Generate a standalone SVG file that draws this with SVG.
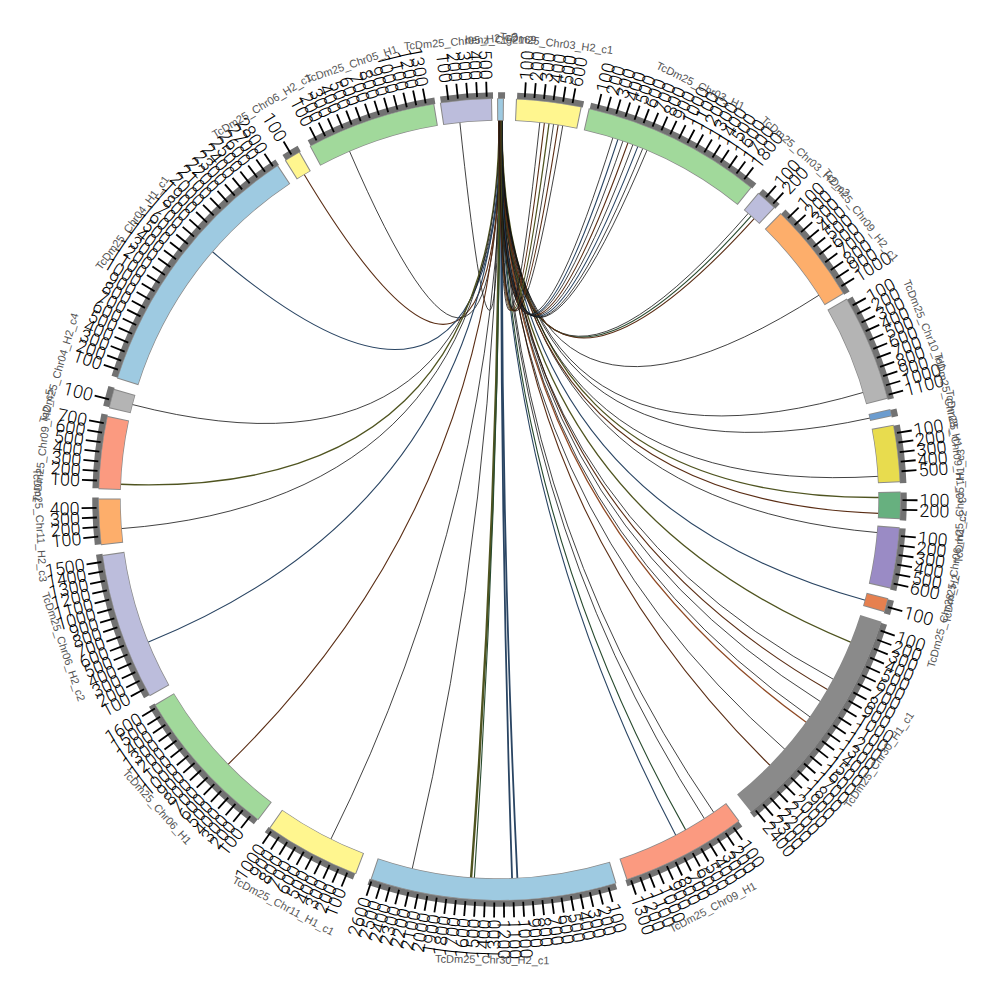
<svg xmlns="http://www.w3.org/2000/svg" xmlns:xlink="http://www.w3.org/1999/xlink" width="1000" height="1000" viewBox="0 0 1000 1000">
<style>
.gb{fill:none;stroke:#727272;stroke-width:6.5}
.ol{fill:none;stroke:#8a8a8a;stroke-width:22.4}
.cb{fill:none;stroke-width:21}
.tl{font-family:Roboto,"Liberation Sans",Arial,sans-serif;font-weight:300;font-size:18px;fill:#000;dominant-baseline:central}
.le{text-anchor:end}
.nm{font-family:"Liberation Sans",Arial,sans-serif;font-size:11px;fill:#555;text-anchor:middle;dominant-baseline:central}
.lk{fill:none;stroke:#111;stroke-width:0.8}
.lb{fill:none;stroke:#5a2d14;stroke-width:1.1}
.lo{fill:none;stroke:#4f5420;stroke-width:1.3}
.lu{fill:none;stroke:#2a4563;stroke-width:1.1}
.lg{fill:none;stroke:#274a2e;stroke-width:1.1}
.la{fill:none;stroke:#8f4a25;stroke-width:1.3}
</style>
<defs>
<line id="tk" x1="0" y1="-403" x2="0" y2="-418" stroke="#000" stroke-width="1.8"/>
</defs>
<rect width="1000" height="1000" fill="#fff"/>
<g transform="translate(499.5,499.5)">
<g id="connectors">
<path class="lk" d="M-0.5,-379.5Q0,0 -39.67,-377.42"/>
<path class="lk" d="M0.3,-379.5Q0,0 -150.11,-348.55"/>
<path class="lb" d="M1.1,-379.5Q0,0 -195.46,-325.3"/>
<path class="lu" d="M1.9,-379.5Q0,0 -287.28,-247.97"/>
<path class="lk" d="M2.6,-379.5Q0,0 -367.41,-95.02"/>
<path class="lo" d="M-0.5,-379.5Q0,0 -379.19,-15.23"/>
<path class="lk" d="M0.3,-379.5Q0,0 -378.38,29.12"/>
<path class="lu" d="M1.1,-379.5Q0,0 -351.62,142.78"/>
<path class="lb" d="M1.9,-379.5Q0,0 -271.6,265.05"/>
<path class="lk" d="M2.6,-379.5Q0,0 -168.74,339.92"/>
<path class="lk" d="M-0.5,-379.5Q0,0 -87.3,369.32"/>
<path class="lo" style="stroke-width:2.4" d="M0.3,-379.5Q0,0 -28.45,378.43"/>
<path class="lg" d="M1.1,-379.5Q0,0 -25.15,378.67"/>
<path class="lu" style="stroke-width:1.8" d="M1.9,-379.5Q0,0 12.58,379.29"/>
<path class="lu" style="stroke-width:1.8" d="M2.6,-379.5Q0,0 17.88,379.08"/>
<path class="lu" d="M-0.5,-379.5Q0,0 176.41,336.01"/>
<path class="lg" d="M0.3,-379.5Q0,0 186.3,330.63"/>
<path class="lk" d="M1.1,-379.5Q0,0 205.02,319.36"/>
<path class="lk" d="M1.9,-379.5Q0,0 214.41,313.14"/>
<path class="lb" d="M2.6,-379.5Q0,0 270.68,266"/>
<path class="lk" d="M-0.5,-379.5Q0,0 285.54,249.97"/>
<path class="la" d="M0.3,-379.5Q0,0 307.02,223.07"/>
<path class="lk" d="M1.1,-379.5Q0,0 310.87,217.67"/>
<path class="lk" d="M1.9,-379.5Q0,0 321.13,202.23"/>
<path class="lb" d="M2.6,-379.5Q0,0 328.32,190.32"/>
<path class="lk" d="M-0.5,-379.5Q0,0 334.13,179.92"/>
<path class="lo" d="M0.3,-379.5Q0,0 351.62,142.78"/>
<path class="lu" d="M1.1,-379.5Q0,0 365.88,100.78"/>
<path class="lk" d="M1.9,-379.5Q0,0 378.06,33.08"/>
<path class="lo" d="M2.6,-379.5Q0,0 379.5,-1.99"/>
<path class="lb" d="M-0.5,-379.5Q0,0 379.25,13.9"/>
<path class="lk" d="M0.3,-379.5Q0,0 378.79,-23.17"/>
<path class="lk" d="M1.1,-379.5Q0,0 370.66,-81.49"/>
<path class="lk" d="M1.9,-379.5Q0,0 364.07,-107.15"/>
<path class="lk" d="M2.6,-379.5Q0,0 319.72,-204.47"/>
<path class="lk" d="M-0.5,-379.5Q0,0 248.97,-286.41"/>
<path class="lg" d="M0.3,-379.5Q0,0 251.96,-283.79"/>
<path class="lb" d="M1.1,-379.5Q0,0 254.92,-281.13"/>
<path class="lk" d="M1.9,-379.5Q0,0 113.49,-362.13"/>
<path class="lu" d="M2.6,-379.5Q0,0 118.53,-360.51"/>
<path class="lk" d="M-0.5,-379.5Q0,0 123.55,-358.82"/>
<path class="lb" d="M0.3,-379.5Q0,0 128.55,-357.06"/>
<path class="lk" d="M1.1,-379.5Q0,0 133.52,-355.24"/>
<path class="lu" d="M1.9,-379.5Q0,0 138.47,-353.34"/>
<path class="lk" d="M2.6,-379.5Q0,0 143.39,-351.37"/>
<path class="lk" d="M-0.5,-379.5Q0,0 147.67,-349.59"/>
<path class="lk" d="M0.3,-379.5Q0,0 40.33,-377.35"/>
<path class="lb" d="M1.1,-379.5Q0,0 44.93,-376.83"/>
<path class="lo" d="M1.9,-379.5Q0,0 49.54,-376.25"/>
<path class="lk" d="M2.6,-379.5Q0,0 54.13,-375.62"/>
<path class="lb" d="M-0.5,-379.5Q0,0 58.71,-374.93"/>
<path class="lk" d="M0.3,-379.5Q0,0 63.29,-374.19"/>
</g>

<g id="seg-benz-ctg2169">
<circle class="gb" r="404" stroke-dasharray="7.05 3000" transform="rotate(-90.2)"/>
<circle class="ol" r="390" stroke-dasharray="6.81 3000" transform="rotate(-90.35)"/>
<circle class="cb" r="390" stroke="#9ecae1" stroke-dasharray="4.76 3000" transform="rotate(-90.2)"/>
<text class="nm" transform="rotate(0.15)" y="-460">benz_Ctg2169</text>
</g>

<g id="seg-chr03-h2-c1">
<circle class="gb" r="404" stroke-dasharray="66.99 3000" transform="rotate(-87.5)"/>
<circle class="ol" r="390" stroke-dasharray="64.66 3000" transform="rotate(-87.65)"/>
<circle class="cb" r="390" stroke="#fff68f" stroke-dasharray="62.62 3000" transform="rotate(-87.5)"/>
<g transform="rotate(3.6)">
<g><use href="#tk"/><text class="tl" transform="rotate(-90)" x="420">100</text></g>
<g transform="rotate(1.37)"><use href="#tk"/><text class="tl" transform="rotate(-90)" x="420">200</text></g>
<g transform="rotate(2.74)"><use href="#tk"/><text class="tl" transform="rotate(-90)" x="420">300</text></g>
<g transform="rotate(4.11)"><use href="#tk"/><text class="tl" transform="rotate(-90)" x="420">400</text></g>
<g transform="rotate(5.48)"><use href="#tk"/><text class="tl" transform="rotate(-90)" x="420">500</text></g>
<g transform="rotate(6.85)"><use href="#tk"/><text class="tl" transform="rotate(-90)" x="420">600</text></g>
</g>
<text class="nm" transform="rotate(7.1)" y="-460">TcDm25_Chr03_H2_c1</text>
</g>

<g id="seg-chr03-h1">
<circle class="gb" r="404" stroke-dasharray="184.03 3000" transform="rotate(-77)"/>
<circle class="ol" r="390" stroke-dasharray="177.66 3000" transform="rotate(-77.15)"/>
<circle class="cb" r="390" stroke="#a1d99b" stroke-dasharray="175.62 3000" transform="rotate(-77)"/>
<g transform="rotate(14.1)">
<g><use href="#tk"/><text class="tl" transform="rotate(-90)" x="420">100</text></g>
<g transform="rotate(1.37)"><use href="#tk"/><text class="tl" transform="rotate(-90)" x="420">200</text></g>
<g transform="rotate(2.74)"><use href="#tk"/><text class="tl" transform="rotate(-90)" x="420">300</text></g>
<g transform="rotate(4.11)"><use href="#tk"/><text class="tl" transform="rotate(-90)" x="420">400</text></g>
<g transform="rotate(5.48)"><use href="#tk"/><text class="tl" transform="rotate(-90)" x="420">500</text></g>
<g transform="rotate(6.85)"><use href="#tk"/><text class="tl" transform="rotate(-90)" x="420">600</text></g>
<g transform="rotate(8.22)"><use href="#tk"/><text class="tl" transform="rotate(-90)" x="420">700</text></g>
<g transform="rotate(9.59)"><use href="#tk"/><text class="tl" transform="rotate(-90)" x="420">800</text></g>
<g transform="rotate(10.96)"><use href="#tk"/><text class="tl" transform="rotate(-90)" x="420">900</text></g>
<g transform="rotate(12.33)"><use href="#tk"/><text class="tl" transform="rotate(-90)" x="420">1000</text></g>
<g transform="rotate(13.7)"><use href="#tk"/><text class="tl" transform="rotate(-90)" x="420">1100</text></g>
<g transform="rotate(15.07)"><use href="#tk"/><text class="tl" transform="rotate(-90)" x="420">1200</text></g>
<g transform="rotate(16.44)"><use href="#tk"/><text class="tl" transform="rotate(-90)" x="420">1300</text></g>
<g transform="rotate(17.81)"><use href="#tk"/><text class="tl" transform="rotate(-90)" x="420">1400</text></g>
<g transform="rotate(19.18)"><use href="#tk"/><text class="tl" transform="rotate(-90)" x="420">1500</text></g>
<g transform="rotate(20.55)"><use href="#tk"/><text class="tl" transform="rotate(-90)" x="420">1600</text></g>
<g transform="rotate(21.92)"><use href="#tk"/><text class="tl" transform="rotate(-90)" x="420">1700</text></g>
<g transform="rotate(23.29)"><use href="#tk"/><text class="tl" transform="rotate(-90)" x="420">1800</text></g>
</g>
<text class="nm" transform="rotate(25.9)" y="-460">TcDm25_Chr03_H1</text>
</g>

<g id="seg-chr03-h2-c2">
<circle class="gb" r="404" stroke-dasharray="22.56 3000" transform="rotate(-49.7)"/>
<circle class="ol" r="390" stroke-dasharray="21.78 3000" transform="rotate(-49.85)"/>
<circle class="cb" r="390" stroke="#bcbddc" stroke-dasharray="19.74 3000" transform="rotate(-49.7)"/>
<g transform="rotate(41.4)">
<g><use href="#tk"/><text class="tl" transform="rotate(-90)" x="420">100</text></g>
<g transform="rotate(1.37)"><use href="#tk"/><text class="tl" transform="rotate(-90)" x="420">200</text></g>
</g>
<text class="nm" transform="rotate(41.75)" y="-460">TcDm25_Chr03_H2_c2</text>
</g>

<g id="seg-chr09-h2-c1">
<circle class="gb" r="404" stroke-dasharray="103.65 3000" transform="rotate(-45.4)"/>
<circle class="ol" r="390" stroke-dasharray="100.06 3000" transform="rotate(-45.55)"/>
<circle class="cb" r="390" stroke="#fdae6b" stroke-dasharray="98.02 3000" transform="rotate(-45.4)"/>
<g transform="rotate(45.7)">
<g><use href="#tk"/><text class="tl" transform="rotate(-90)" x="420">100</text></g>
<g transform="rotate(1.37)"><use href="#tk"/><text class="tl" transform="rotate(-90)" x="420">200</text></g>
<g transform="rotate(2.74)"><use href="#tk"/><text class="tl" transform="rotate(-90)" x="420">300</text></g>
<g transform="rotate(4.11)"><use href="#tk"/><text class="tl" transform="rotate(-90)" x="420">400</text></g>
<g transform="rotate(5.48)"><use href="#tk"/><text class="tl" transform="rotate(-90)" x="420">500</text></g>
<g transform="rotate(6.85)"><use href="#tk"/><text class="tl" transform="rotate(-90)" x="420">600</text></g>
<g transform="rotate(8.22)"><use href="#tk"/><text class="tl" transform="rotate(-90)" x="420">700</text></g>
<g transform="rotate(9.59)"><use href="#tk"/><text class="tl" transform="rotate(-90)" x="420">800</text></g>
<g transform="rotate(10.96)"><use href="#tk"/><text class="tl" transform="rotate(-90)" x="420">900</text></g>
<g transform="rotate(12.33)"><use href="#tk"/><text class="tl" transform="rotate(-90)" x="420">1000</text></g>
</g>
<text class="nm" transform="rotate(51.8)" y="-460">TcDm25_Chr09_H2_c1</text>
</g>

<g id="seg-chr10-h1">
<circle class="gb" r="404" stroke-dasharray="109.29 3000" transform="rotate(-29.9)"/>
<circle class="ol" r="390" stroke-dasharray="105.51 3000" transform="rotate(-30.05)"/>
<circle class="cb" r="390" stroke="#b4b4b4" stroke-dasharray="103.46 3000" transform="rotate(-29.9)"/>
<g transform="rotate(61.2)">
<g><use href="#tk"/><text class="tl" transform="rotate(-90)" x="420">100</text></g>
<g transform="rotate(1.37)"><use href="#tk"/><text class="tl" transform="rotate(-90)" x="420">200</text></g>
<g transform="rotate(2.74)"><use href="#tk"/><text class="tl" transform="rotate(-90)" x="420">300</text></g>
<g transform="rotate(4.11)"><use href="#tk"/><text class="tl" transform="rotate(-90)" x="420">400</text></g>
<g transform="rotate(5.48)"><use href="#tk"/><text class="tl" transform="rotate(-90)" x="420">500</text></g>
<g transform="rotate(6.85)"><use href="#tk"/><text class="tl" transform="rotate(-90)" x="420">600</text></g>
<g transform="rotate(8.22)"><use href="#tk"/><text class="tl" transform="rotate(-90)" x="420">700</text></g>
<g transform="rotate(9.59)"><use href="#tk"/><text class="tl" transform="rotate(-90)" x="420">800</text></g>
<g transform="rotate(10.96)"><use href="#tk"/><text class="tl" transform="rotate(-90)" x="420">900</text></g>
<g transform="rotate(12.33)"><use href="#tk"/><text class="tl" transform="rotate(-90)" x="420">1000</text></g>
<g transform="rotate(13.7)"><use href="#tk"/><text class="tl" transform="rotate(-90)" x="420">1100</text></g>
</g>
<text class="nm" transform="rotate(67.7)" y="-460">TcDm25_Chr10_H1</text>
</g>

<g id="seg-chr28-h1">
<circle class="gb" r="404" stroke-dasharray="7.76 3000" transform="rotate(-12.9)"/>
<circle class="ol" r="390" stroke-dasharray="7.49 3000" transform="rotate(-13.05)"/>
<circle class="cb" r="390" stroke="#6b9ccf" stroke-dasharray="5.45 3000" transform="rotate(-12.9)"/>
<text class="nm" transform="rotate(77.5)" y="-460">TcDm25_Chr28_H1</text>
</g>

<g id="seg-chr09-h1-c3">
<circle class="gb" r="404" stroke-dasharray="58.52 3000" transform="rotate(-10.6)"/>
<circle class="ol" r="390" stroke-dasharray="56.5 3000" transform="rotate(-10.75)"/>
<circle class="cb" r="390" stroke="#e8dc4e" stroke-dasharray="54.45 3000" transform="rotate(-10.6)"/>
<g transform="rotate(80.5)">
<g><use href="#tk"/><text class="tl" transform="rotate(-90)" x="420">100</text></g>
<g transform="rotate(1.37)"><use href="#tk"/><text class="tl" transform="rotate(-90)" x="420">200</text></g>
<g transform="rotate(2.74)"><use href="#tk"/><text class="tl" transform="rotate(-90)" x="420">300</text></g>
<g transform="rotate(4.11)"><use href="#tk"/><text class="tl" transform="rotate(-90)" x="420">400</text></g>
<g transform="rotate(5.48)"><use href="#tk"/><text class="tl" transform="rotate(-90)" x="420">500</text></g>
</g>
<text class="nm" transform="rotate(83.4)" y="-460">TcDm25_Chr09_H1_c3</text>
</g>

<g id="seg-chr05-h1-c3">
<circle class="gb" r="404" stroke-dasharray="28.2 3000" transform="rotate(-1)"/>
<circle class="ol" r="390" stroke-dasharray="27.23 3000" transform="rotate(-1.15)"/>
<circle class="cb" r="390" stroke="#67b07f" stroke-dasharray="25.19 3000" transform="rotate(-1)"/>
<g transform="rotate(90.1)">
<g><use href="#tk"/><text class="tl" transform="rotate(-90)" x="420">100</text></g>
<g transform="rotate(1.37)"><use href="#tk"/><text class="tl" transform="rotate(-90)" x="420">200</text></g>
</g>
<text class="nm" transform="rotate(-89.15)" y="460">TcDm25_Chr05_H1_c3</text>
</g>

<g id="seg-chr06-h1-c2">
<circle class="gb" r="404" stroke-dasharray="62.75 3000" transform="rotate(4.1)"/>
<circle class="ol" r="390" stroke-dasharray="60.58 3000" transform="rotate(3.95)"/>
<circle class="cb" r="390" stroke="#9a8bc5" stroke-dasharray="58.54 3000" transform="rotate(4.1)"/>
<g transform="rotate(95.2)">
<g><use href="#tk"/><text class="tl" transform="rotate(-90)" x="420">100</text></g>
<g transform="rotate(1.37)"><use href="#tk"/><text class="tl" transform="rotate(-90)" x="420">200</text></g>
<g transform="rotate(2.74)"><use href="#tk"/><text class="tl" transform="rotate(-90)" x="420">300</text></g>
<g transform="rotate(4.11)"><use href="#tk"/><text class="tl" transform="rotate(-90)" x="420">400</text></g>
<g transform="rotate(5.48)"><use href="#tk"/><text class="tl" transform="rotate(-90)" x="420">500</text></g>
<g transform="rotate(6.85)"><use href="#tk"/><text class="tl" transform="rotate(-90)" x="420">600</text></g>
</g>
<text class="nm" transform="rotate(-81.6)" y="460">TcDm25_Chr06_H1_c2</text>
</g>

<g id="seg-chr28-h2">
<circle class="gb" r="404" stroke-dasharray="14.81 3000" transform="rotate(14.4)"/>
<circle class="ol" r="390" stroke-dasharray="14.29 3000" transform="rotate(14.25)"/>
<circle class="cb" r="390" stroke="#e6804f" stroke-dasharray="12.25 3000" transform="rotate(14.4)"/>
<g transform="rotate(105.5)">
<g><use href="#tk"/><text class="tl" transform="rotate(-90)" x="420">100</text></g>
</g>
<text class="nm" transform="rotate(-74.7)" y="460">TcDm25_Chr28_H2</text>
</g>

<g id="seg-chr30-h1-c1">
<circle class="gb" r="404" stroke-dasharray="235.51 3000" transform="rotate(17.9)"/>
<circle class="ol" r="390" stroke-dasharray="227.35 3000" transform="rotate(17.75)"/>
<circle class="cb" r="390" stroke="#8a8a8a" stroke-dasharray="225.31 3000" transform="rotate(17.9)"/>
<g transform="rotate(109)">
<g><use href="#tk"/><text class="tl" transform="rotate(-90)" x="420">100</text></g>
<g transform="rotate(1.37)"><use href="#tk"/><text class="tl" transform="rotate(-90)" x="420">200</text></g>
<g transform="rotate(2.74)"><use href="#tk"/><text class="tl" transform="rotate(-90)" x="420">300</text></g>
<g transform="rotate(4.11)"><use href="#tk"/><text class="tl" transform="rotate(-90)" x="420">400</text></g>
<g transform="rotate(5.48)"><use href="#tk"/><text class="tl" transform="rotate(-90)" x="420">500</text></g>
<g transform="rotate(6.85)"><use href="#tk"/><text class="tl" transform="rotate(-90)" x="420">600</text></g>
<g transform="rotate(8.22)"><use href="#tk"/><text class="tl" transform="rotate(-90)" x="420">700</text></g>
<g transform="rotate(9.59)"><use href="#tk"/><text class="tl" transform="rotate(-90)" x="420">800</text></g>
<g transform="rotate(10.96)"><use href="#tk"/><text class="tl" transform="rotate(-90)" x="420">900</text></g>
<g transform="rotate(12.33)"><use href="#tk"/><text class="tl" transform="rotate(-90)" x="420">1000</text></g>
<g transform="rotate(13.7)"><use href="#tk"/><text class="tl" transform="rotate(-90)" x="420">1100</text></g>
<g transform="rotate(15.07)"><use href="#tk"/><text class="tl" transform="rotate(-90)" x="420">1200</text></g>
<g transform="rotate(16.44)"><use href="#tk"/><text class="tl" transform="rotate(-90)" x="420">1300</text></g>
<g transform="rotate(17.81)"><use href="#tk"/><text class="tl" transform="rotate(-90)" x="420">1400</text></g>
<g transform="rotate(19.18)"><use href="#tk"/><text class="tl" transform="rotate(-90)" x="420">1500</text></g>
<g transform="rotate(20.55)"><use href="#tk"/><text class="tl" transform="rotate(-90)" x="420">1600</text></g>
<g transform="rotate(21.92)"><use href="#tk"/><text class="tl" transform="rotate(-90)" x="420">1700</text></g>
<g transform="rotate(23.29)"><use href="#tk"/><text class="tl" transform="rotate(-90)" x="420">1800</text></g>
<g transform="rotate(24.66)"><use href="#tk"/><text class="tl" transform="rotate(-90)" x="420">1900</text></g>
<g transform="rotate(26.03)"><use href="#tk"/><text class="tl" transform="rotate(-90)" x="420">2000</text></g>
<g transform="rotate(27.4)"><use href="#tk"/><text class="tl" transform="rotate(-90)" x="420">2100</text></g>
<g transform="rotate(28.77)"><use href="#tk"/><text class="tl" transform="rotate(-90)" x="420">2200</text></g>
<g transform="rotate(30.14)"><use href="#tk"/><text class="tl" transform="rotate(-90)" x="420">2300</text></g>
<g transform="rotate(31.51)"><use href="#tk"/><text class="tl" transform="rotate(-90)" x="420">2400</text></g>
</g>
<text class="nm" transform="rotate(-55.55)" y="460">TcDm25_Chr30_H1_c1</text>
</g>

<g id="seg-chr09-h1">
<circle class="gb" r="404" stroke-dasharray="129.04 3000" transform="rotate(53.4)"/>
<circle class="ol" r="390" stroke-dasharray="124.56 3000" transform="rotate(53.25)"/>
<circle class="cb" r="390" stroke="#fb9a80" stroke-dasharray="122.52 3000" transform="rotate(53.4)"/>
<g transform="rotate(144.5)">
<g><use href="#tk"/><text class="tl" transform="rotate(-90)" x="420">100</text></g>
<g transform="rotate(1.37)"><use href="#tk"/><text class="tl" transform="rotate(-90)" x="420">200</text></g>
<g transform="rotate(2.74)"><use href="#tk"/><text class="tl" transform="rotate(-90)" x="420">300</text></g>
<g transform="rotate(4.11)"><use href="#tk"/><text class="tl" transform="rotate(-90)" x="420">400</text></g>
<g transform="rotate(5.48)"><use href="#tk"/><text class="tl" transform="rotate(-90)" x="420">500</text></g>
<g transform="rotate(6.85)"><use href="#tk"/><text class="tl" transform="rotate(-90)" x="420">600</text></g>
<g transform="rotate(8.22)"><use href="#tk"/><text class="tl" transform="rotate(-90)" x="420">700</text></g>
<g transform="rotate(9.59)"><use href="#tk"/><text class="tl" transform="rotate(-90)" x="420">800</text></g>
<g transform="rotate(10.96)"><use href="#tk"/><text class="tl" transform="rotate(-90)" x="420">900</text></g>
<g transform="rotate(12.33)"><use href="#tk"/><text class="tl" transform="rotate(-90)" x="420">1000</text></g>
<g transform="rotate(13.7)"><use href="#tk"/><text class="tl" transform="rotate(-90)" x="420">1100</text></g>
<g transform="rotate(15.07)"><use href="#tk"/><text class="tl" transform="rotate(-90)" x="420">1200</text></g>
<g transform="rotate(16.44)"><use href="#tk"/><text class="tl" transform="rotate(-90)" x="420">1300</text></g>
</g>
<text class="nm" transform="rotate(-27.6)" y="460">TcDm25_Chr09_H1</text>
</g>

<g id="seg-chr30-h2-c1">
<circle class="gb" r="404" stroke-dasharray="251.72 3000" transform="rotate(73.2)"/>
<circle class="ol" r="390" stroke-dasharray="243 3000" transform="rotate(73.05)"/>
<circle class="cb" r="390" stroke="#9ecae1" stroke-dasharray="240.96 3000" transform="rotate(73.2)"/>
<g transform="rotate(164.3)">
<g><use href="#tk"/><text class="tl" transform="rotate(-90)" x="420">100</text></g>
<g transform="rotate(1.37)"><use href="#tk"/><text class="tl" transform="rotate(-90)" x="420">200</text></g>
<g transform="rotate(2.74)"><use href="#tk"/><text class="tl" transform="rotate(-90)" x="420">300</text></g>
<g transform="rotate(4.11)"><use href="#tk"/><text class="tl" transform="rotate(-90)" x="420">400</text></g>
<g transform="rotate(5.48)"><use href="#tk"/><text class="tl" transform="rotate(-90)" x="420">500</text></g>
<g transform="rotate(6.85)"><use href="#tk"/><text class="tl" transform="rotate(-90)" x="420">600</text></g>
<g transform="rotate(8.22)"><use href="#tk"/><text class="tl" transform="rotate(-90)" x="420">700</text></g>
<g transform="rotate(9.59)"><use href="#tk"/><text class="tl" transform="rotate(-90)" x="420">800</text></g>
<g transform="rotate(10.96)"><use href="#tk"/><text class="tl" transform="rotate(-90)" x="420">900</text></g>
<g transform="rotate(12.33)"><use href="#tk"/><text class="tl" transform="rotate(-90)" x="420">1000</text></g>
<g transform="rotate(13.7)"><use href="#tk"/><text class="tl" transform="rotate(-90)" x="420">1100</text></g>
<g transform="rotate(15.07)"><use href="#tk"/><text class="tl" transform="rotate(-90)" x="420">1200</text></g>
<g transform="rotate(16.44)"><use href="#tk"/><text class="tl le" transform="rotate(90)" x="-420">1300</text></g>
<g transform="rotate(17.81)"><use href="#tk"/><text class="tl le" transform="rotate(90)" x="-420">1400</text></g>
<g transform="rotate(19.18)"><use href="#tk"/><text class="tl le" transform="rotate(90)" x="-420">1500</text></g>
<g transform="rotate(20.55)"><use href="#tk"/><text class="tl le" transform="rotate(90)" x="-420">1600</text></g>
<g transform="rotate(21.92)"><use href="#tk"/><text class="tl le" transform="rotate(90)" x="-420">1700</text></g>
<g transform="rotate(23.29)"><use href="#tk"/><text class="tl le" transform="rotate(90)" x="-420">1800</text></g>
<g transform="rotate(24.66)"><use href="#tk"/><text class="tl le" transform="rotate(90)" x="-420">1900</text></g>
<g transform="rotate(26.03)"><use href="#tk"/><text class="tl le" transform="rotate(90)" x="-420">2000</text></g>
<g transform="rotate(27.4)"><use href="#tk"/><text class="tl le" transform="rotate(90)" x="-420">2100</text></g>
<g transform="rotate(28.77)"><use href="#tk"/><text class="tl le" transform="rotate(90)" x="-420">2200</text></g>
<g transform="rotate(30.14)"><use href="#tk"/><text class="tl le" transform="rotate(90)" x="-420">2300</text></g>
<g transform="rotate(31.51)"><use href="#tk"/><text class="tl le" transform="rotate(90)" x="-420">2400</text></g>
<g transform="rotate(32.88)"><use href="#tk"/><text class="tl le" transform="rotate(90)" x="-420">2500</text></g>
<g transform="rotate(34.25)"><use href="#tk"/><text class="tl le" transform="rotate(90)" x="-420">2600</text></g>
</g>
<text class="nm" transform="rotate(0.9)" y="460">TcDm25_Chr30_H2_c1</text>
</g>

<g id="seg-chr11-h1-c1">
<circle class="gb" r="404" stroke-dasharray="99.42 3000" transform="rotate(111.1)"/>
<circle class="ol" r="390" stroke-dasharray="95.98 3000" transform="rotate(110.95)"/>
<circle class="cb" r="390" stroke="#fff68f" stroke-dasharray="93.93 3000" transform="rotate(111.1)"/>
<g transform="rotate(202.2)">
<g><use href="#tk"/><text class="tl le" transform="rotate(90)" x="-420">100</text></g>
<g transform="rotate(1.37)"><use href="#tk"/><text class="tl le" transform="rotate(90)" x="-420">200</text></g>
<g transform="rotate(2.74)"><use href="#tk"/><text class="tl le" transform="rotate(90)" x="-420">300</text></g>
<g transform="rotate(4.11)"><use href="#tk"/><text class="tl le" transform="rotate(90)" x="-420">400</text></g>
<g transform="rotate(5.48)"><use href="#tk"/><text class="tl le" transform="rotate(90)" x="-420">500</text></g>
<g transform="rotate(6.85)"><use href="#tk"/><text class="tl le" transform="rotate(90)" x="-420">600</text></g>
<g transform="rotate(8.22)"><use href="#tk"/><text class="tl le" transform="rotate(90)" x="-420">700</text></g>
<g transform="rotate(9.59)"><use href="#tk"/><text class="tl le" transform="rotate(90)" x="-420">800</text></g>
<g transform="rotate(10.96)"><use href="#tk"/><text class="tl le" transform="rotate(90)" x="-420">900</text></g>
<g transform="rotate(12.33)"><use href="#tk"/><text class="tl le" transform="rotate(90)" x="-420">1000</text></g>
</g>
<text class="nm" transform="rotate(28)" y="460">TcDm25_Chr11_H1_c1</text>
</g>

<g id="seg-chr06-h1">
<circle class="gb" r="404" stroke-dasharray="157.24 3000" transform="rotate(127.1)"/>
<circle class="ol" r="390" stroke-dasharray="151.79 3000" transform="rotate(126.95)"/>
<circle class="cb" r="390" stroke="#a1d99b" stroke-dasharray="149.75 3000" transform="rotate(127.1)"/>
<g transform="rotate(218.2)">
<g><use href="#tk"/><text class="tl le" transform="rotate(90)" x="-420">100</text></g>
<g transform="rotate(1.37)"><use href="#tk"/><text class="tl le" transform="rotate(90)" x="-420">200</text></g>
<g transform="rotate(2.74)"><use href="#tk"/><text class="tl le" transform="rotate(90)" x="-420">300</text></g>
<g transform="rotate(4.11)"><use href="#tk"/><text class="tl le" transform="rotate(90)" x="-420">400</text></g>
<g transform="rotate(5.48)"><use href="#tk"/><text class="tl le" transform="rotate(90)" x="-420">500</text></g>
<g transform="rotate(6.85)"><use href="#tk"/><text class="tl le" transform="rotate(90)" x="-420">600</text></g>
<g transform="rotate(8.22)"><use href="#tk"/><text class="tl le" transform="rotate(90)" x="-420">700</text></g>
<g transform="rotate(9.59)"><use href="#tk"/><text class="tl le" transform="rotate(90)" x="-420">800</text></g>
<g transform="rotate(10.96)"><use href="#tk"/><text class="tl le" transform="rotate(90)" x="-420">900</text></g>
<g transform="rotate(12.33)"><use href="#tk"/><text class="tl le" transform="rotate(90)" x="-420">1000</text></g>
<g transform="rotate(13.7)"><use href="#tk"/><text class="tl le" transform="rotate(90)" x="-420">1100</text></g>
<g transform="rotate(15.07)"><use href="#tk"/><text class="tl le" transform="rotate(90)" x="-420">1200</text></g>
<g transform="rotate(16.44)"><use href="#tk"/><text class="tl le" transform="rotate(90)" x="-420">1300</text></g>
<g transform="rotate(17.81)"><use href="#tk"/><text class="tl le" transform="rotate(90)" x="-420">1400</text></g>
<g transform="rotate(19.18)"><use href="#tk"/><text class="tl le" transform="rotate(90)" x="-420">1500</text></g>
<g transform="rotate(20.55)"><use href="#tk"/><text class="tl le" transform="rotate(90)" x="-420">1600</text></g>
</g>
<text class="nm" transform="rotate(48.1)" y="460">TcDm25_Chr06_H1</text>
</g>

<g id="seg-chr06-h2-c2">
<circle class="gb" r="404" stroke-dasharray="150.89 3000" transform="rotate(150.8)"/>
<circle class="ol" r="390" stroke-dasharray="145.67 3000" transform="rotate(150.65)"/>
<circle class="cb" r="390" stroke="#bcbddc" stroke-dasharray="143.62 3000" transform="rotate(150.8)"/>
<g transform="rotate(241.9)">
<g><use href="#tk"/><text class="tl le" transform="rotate(90)" x="-420">100</text></g>
<g transform="rotate(1.37)"><use href="#tk"/><text class="tl le" transform="rotate(90)" x="-420">200</text></g>
<g transform="rotate(2.74)"><use href="#tk"/><text class="tl le" transform="rotate(90)" x="-420">300</text></g>
<g transform="rotate(4.11)"><use href="#tk"/><text class="tl le" transform="rotate(90)" x="-420">400</text></g>
<g transform="rotate(5.48)"><use href="#tk"/><text class="tl le" transform="rotate(90)" x="-420">500</text></g>
<g transform="rotate(6.85)"><use href="#tk"/><text class="tl le" transform="rotate(90)" x="-420">600</text></g>
<g transform="rotate(8.22)"><use href="#tk"/><text class="tl le" transform="rotate(90)" x="-420">700</text></g>
<g transform="rotate(9.59)"><use href="#tk"/><text class="tl le" transform="rotate(90)" x="-420">800</text></g>
<g transform="rotate(10.96)"><use href="#tk"/><text class="tl le" transform="rotate(90)" x="-420">900</text></g>
<g transform="rotate(12.33)"><use href="#tk"/><text class="tl le" transform="rotate(90)" x="-420">1000</text></g>
<g transform="rotate(13.7)"><use href="#tk"/><text class="tl le" transform="rotate(90)" x="-420">1100</text></g>
<g transform="rotate(15.07)"><use href="#tk"/><text class="tl le" transform="rotate(90)" x="-420">1200</text></g>
<g transform="rotate(16.44)"><use href="#tk"/><text class="tl le" transform="rotate(90)" x="-420">1300</text></g>
<g transform="rotate(17.81)"><use href="#tk"/><text class="tl le" transform="rotate(90)" x="-420">1400</text></g>
<g transform="rotate(19.18)"><use href="#tk"/><text class="tl le" transform="rotate(90)" x="-420">1500</text></g>
</g>
<text class="nm" transform="rotate(71.35)" y="460">TcDm25_Chr06_H2_c2</text>
</g>

<g id="seg-chr11-h2-c3">
<circle class="gb" r="404" stroke-dasharray="47.24 3000" transform="rotate(173.6)"/>
<circle class="ol" r="390" stroke-dasharray="45.61 3000" transform="rotate(173.45)"/>
<circle class="cb" r="390" stroke="#fdae6b" stroke-dasharray="43.56 3000" transform="rotate(173.6)"/>
<g transform="rotate(264.7)">
<g><use href="#tk"/><text class="tl le" transform="rotate(90)" x="-420">100</text></g>
<g transform="rotate(1.37)"><use href="#tk"/><text class="tl le" transform="rotate(90)" x="-420">200</text></g>
<g transform="rotate(2.74)"><use href="#tk"/><text class="tl le" transform="rotate(90)" x="-420">300</text></g>
<g transform="rotate(4.11)"><use href="#tk"/><text class="tl le" transform="rotate(90)" x="-420">400</text></g>
</g>
<text class="nm" transform="rotate(86.8)" y="460">TcDm25_Chr11_H2_c3</text>
</g>

<g id="seg-chr09-h2-c5">
<circle class="gb" r="404" stroke-dasharray="74.74 3000" transform="rotate(181.6)"/>
<circle class="ol" r="390" stroke-dasharray="72.15 3000" transform="rotate(181.45)"/>
<circle class="cb" r="390" stroke="#fb9a80" stroke-dasharray="70.11 3000" transform="rotate(181.6)"/>
<g transform="rotate(272.7)">
<g><use href="#tk"/><text class="tl le" transform="rotate(90)" x="-420">100</text></g>
<g transform="rotate(1.37)"><use href="#tk"/><text class="tl le" transform="rotate(90)" x="-420">200</text></g>
<g transform="rotate(2.74)"><use href="#tk"/><text class="tl le" transform="rotate(90)" x="-420">300</text></g>
<g transform="rotate(4.11)"><use href="#tk"/><text class="tl le" transform="rotate(90)" x="-420">400</text></g>
<g transform="rotate(5.48)"><use href="#tk"/><text class="tl le" transform="rotate(90)" x="-420">500</text></g>
<g transform="rotate(6.85)"><use href="#tk"/><text class="tl le" transform="rotate(90)" x="-420">600</text></g>
<g transform="rotate(8.22)"><use href="#tk"/><text class="tl le" transform="rotate(90)" x="-420">700</text></g>
</g>
<text class="nm" transform="rotate(276.75)" y="-460">TcDm25_Chr09_H2_c5</text>
</g>

<g id="seg-chr04-h2-c4">
<circle class="gb" r="404" stroke-dasharray="20.45 3000" transform="rotate(193.3)"/>
<circle class="ol" r="390" stroke-dasharray="19.74 3000" transform="rotate(193.15)"/>
<circle class="cb" r="390" stroke="#b4b4b4" stroke-dasharray="17.7 3000" transform="rotate(193.3)"/>
<g transform="rotate(284.4)">
<g><use href="#tk"/><text class="tl le" transform="rotate(90)" x="-420">100</text></g>
</g>
<text class="nm" transform="rotate(286.6)" y="-460">TcDm25_Chr04_H2_c4</text>
</g>

<g id="seg-chr04-h1-c1">
<circle class="gb" r="404" stroke-dasharray="274.29 3000" transform="rotate(197.7)"/>
<circle class="ol" r="390" stroke-dasharray="264.78 3000" transform="rotate(197.55)"/>
<circle class="cb" r="390" stroke="#9ecae1" stroke-dasharray="262.74 3000" transform="rotate(197.7)"/>
<g transform="rotate(288.8)">
<g><use href="#tk"/><text class="tl le" transform="rotate(90)" x="-420">100</text></g>
<g transform="rotate(1.37)"><use href="#tk"/><text class="tl le" transform="rotate(90)" x="-420">200</text></g>
<g transform="rotate(2.74)"><use href="#tk"/><text class="tl le" transform="rotate(90)" x="-420">300</text></g>
<g transform="rotate(4.11)"><use href="#tk"/><text class="tl le" transform="rotate(90)" x="-420">400</text></g>
<g transform="rotate(5.48)"><use href="#tk"/><text class="tl le" transform="rotate(90)" x="-420">500</text></g>
<g transform="rotate(6.85)"><use href="#tk"/><text class="tl le" transform="rotate(90)" x="-420">600</text></g>
<g transform="rotate(8.22)"><use href="#tk"/><text class="tl le" transform="rotate(90)" x="-420">700</text></g>
<g transform="rotate(9.59)"><use href="#tk"/><text class="tl le" transform="rotate(90)" x="-420">800</text></g>
<g transform="rotate(10.96)"><use href="#tk"/><text class="tl le" transform="rotate(90)" x="-420">900</text></g>
<g transform="rotate(12.33)"><use href="#tk"/><text class="tl le" transform="rotate(90)" x="-420">1000</text></g>
<g transform="rotate(13.7)"><use href="#tk"/><text class="tl le" transform="rotate(90)" x="-420">1100</text></g>
<g transform="rotate(15.07)"><use href="#tk"/><text class="tl le" transform="rotate(90)" x="-420">1200</text></g>
<g transform="rotate(16.44)"><use href="#tk"/><text class="tl le" transform="rotate(90)" x="-420">1300</text></g>
<g transform="rotate(17.81)"><use href="#tk"/><text class="tl le" transform="rotate(90)" x="-420">1400</text></g>
<g transform="rotate(19.18)"><use href="#tk"/><text class="tl le" transform="rotate(90)" x="-420">1500</text></g>
<g transform="rotate(20.55)"><use href="#tk"/><text class="tl le" transform="rotate(90)" x="-420">1600</text></g>
<g transform="rotate(21.92)"><use href="#tk"/><text class="tl le" transform="rotate(90)" x="-420">1700</text></g>
<g transform="rotate(23.29)"><use href="#tk"/><text class="tl le" transform="rotate(90)" x="-420">1800</text></g>
<g transform="rotate(24.66)"><use href="#tk"/><text class="tl le" transform="rotate(90)" x="-420">1900</text></g>
<g transform="rotate(26.03)"><use href="#tk"/><text class="tl le" transform="rotate(90)" x="-420">2000</text></g>
<g transform="rotate(27.4)"><use href="#tk"/><text class="tl le" transform="rotate(90)" x="-420">2100</text></g>
<g transform="rotate(28.77)"><use href="#tk"/><text class="tl le" transform="rotate(90)" x="-420">2200</text></g>
<g transform="rotate(30.14)"><use href="#tk"/><text class="tl le" transform="rotate(90)" x="-420">2300</text></g>
<g transform="rotate(31.51)"><use href="#tk"/><text class="tl le" transform="rotate(90)" x="-420">2400</text></g>
<g transform="rotate(32.88)"><use href="#tk"/><text class="tl le" transform="rotate(90)" x="-420">2500</text></g>
<g transform="rotate(34.25)"><use href="#tk"/><text class="tl le" transform="rotate(90)" x="-420">2600</text></g>
<g transform="rotate(35.62)"><use href="#tk"/><text class="tl le" transform="rotate(90)" x="-420">2700</text></g>
<g transform="rotate(36.99)"><use href="#tk"/><text class="tl le" transform="rotate(90)" x="-420">2800</text></g>
</g>
<text class="nm" transform="rotate(307)" y="-460">TcDm25_Chr04_H1_c1</text>
</g>

<g id="seg-chr06-h2-c1">
<circle class="gb" r="404" stroke-dasharray="17.63 3000" transform="rotate(237.8)"/>
<circle class="ol" r="390" stroke-dasharray="17.02 3000" transform="rotate(237.65)"/>
<circle class="cb" r="390" stroke="#fff68f" stroke-dasharray="14.97 3000" transform="rotate(237.8)"/>
<g transform="rotate(328.9)">
<g><use href="#tk"/><text class="tl le" transform="rotate(90)" x="-420">100</text></g>
</g>
<text class="nm" transform="rotate(328.9)" y="-460">TcDm25_Chr06_H2_c1</text>
</g>

<g id="seg-chr05-h1">
<circle class="gb" r="404" stroke-dasharray="133.27 3000" transform="rotate(241.9)"/>
<circle class="ol" r="390" stroke-dasharray="128.65 3000" transform="rotate(241.75)"/>
<circle class="cb" r="390" stroke="#a1d99b" stroke-dasharray="126.61 3000" transform="rotate(241.9)"/>
<g transform="rotate(333)">
<g><use href="#tk"/><text class="tl le" transform="rotate(90)" x="-420">100</text></g>
<g transform="rotate(1.37)"><use href="#tk"/><text class="tl le" transform="rotate(90)" x="-420">200</text></g>
<g transform="rotate(2.74)"><use href="#tk"/><text class="tl le" transform="rotate(90)" x="-420">300</text></g>
<g transform="rotate(4.11)"><use href="#tk"/><text class="tl le" transform="rotate(90)" x="-420">400</text></g>
<g transform="rotate(5.48)"><use href="#tk"/><text class="tl le" transform="rotate(90)" x="-420">500</text></g>
<g transform="rotate(6.85)"><use href="#tk"/><text class="tl le" transform="rotate(90)" x="-420">600</text></g>
<g transform="rotate(8.22)"><use href="#tk"/><text class="tl le" transform="rotate(90)" x="-420">700</text></g>
<g transform="rotate(9.59)"><use href="#tk"/><text class="tl le" transform="rotate(90)" x="-420">800</text></g>
<g transform="rotate(10.96)"><use href="#tk"/><text class="tl le" transform="rotate(90)" x="-420">900</text></g>
<g transform="rotate(12.33)"><use href="#tk"/><text class="tl le" transform="rotate(90)" x="-420">1000</text></g>
<g transform="rotate(13.7)"><use href="#tk"/><text class="tl le" transform="rotate(90)" x="-420">1100</text></g>
<g transform="rotate(15.07)"><use href="#tk"/><text class="tl le" transform="rotate(90)" x="-420">1200</text></g>
<g transform="rotate(16.44)"><use href="#tk"/><text class="tl le" transform="rotate(90)" x="-420">1300</text></g>
</g>
<text class="nm" transform="rotate(341.2)" y="-460">TcDm25_Chr05_H1</text>
</g>

<g id="seg-chr05-h2-c2">
<circle class="gb" r="404" stroke-dasharray="52.88 3000" transform="rotate(261.6)"/>
<circle class="ol" r="390" stroke-dasharray="51.05 3000" transform="rotate(261.45)"/>
<circle class="cb" r="390" stroke="#bcbddc" stroke-dasharray="49.01 3000" transform="rotate(261.6)"/>
<g transform="rotate(352.7)">
<g><use href="#tk"/><text class="tl le" transform="rotate(90)" x="-420">100</text></g>
<g transform="rotate(1.37)"><use href="#tk"/><text class="tl le" transform="rotate(90)" x="-420">200</text></g>
<g transform="rotate(2.74)"><use href="#tk"/><text class="tl le" transform="rotate(90)" x="-420">300</text></g>
<g transform="rotate(4.11)"><use href="#tk"/><text class="tl le" transform="rotate(90)" x="-420">400</text></g>
<g transform="rotate(5.48)"><use href="#tk"/><text class="tl le" transform="rotate(90)" x="-420">500</text></g>
</g>
<text class="nm" transform="rotate(355.2)" y="-460">TcDm25_Chr05_H2_c2</text>
</g>
</g>
</svg>
